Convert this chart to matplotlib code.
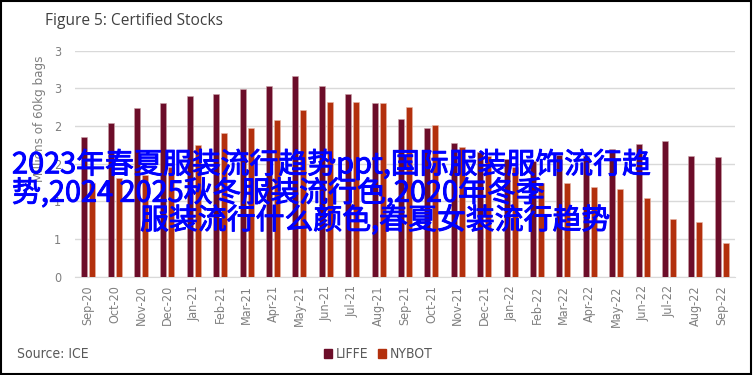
import numpy as np
import matplotlib
matplotlib.use("Agg")
import matplotlib.pyplot as plt
import matplotlib.patheffects as pe
from matplotlib.patches import Rectangle, Patch

# data (millions of 60kg bags)
months = ["Sep-20", "Oct-20", "Nov-20", "Dec-20", "Jan-21", "Feb-21", "Mar-21",
          "Apr-21", "May-21", "Jun-21", "Jul-21", "Aug-21", "Sep-21", "Oct-21",
          "Nov-21", "Dec-21", "Jan-22", "Feb-22", "Mar-22", "Apr-22", "May-22",
          "Jun-22", "Jul-22", "Aug-22", "Sep-22"]
liffe = [1.85, 2.04, 2.24, 2.31, 2.40, 2.43, 2.49, 2.53, 2.66, 2.53, 2.43, 2.31,
         2.09, 1.97, 1.78, 1.65, 1.56, 1.54, 1.62, 1.60, 1.70, 1.76, 1.80, 1.60, 1.59]
nybot = [1.25, 1.31, 1.35, 1.45, 1.75, 1.91, 1.98, 2.08, 2.21, 2.32, 2.32, 2.30,
         2.25, 2.01, 1.72, 1.60, 1.45, 1.25, 1.24, 1.19, 1.16, 1.04, 0.76, 0.72, 0.45]
y_ticks = [0, 0.5, 1.0, 1.5, 2.0, 2.5, 3.0]
y_tick_labels = ["0", "1", "1", "2", "2", "3", "3"]

overlay_lines = ["2023年春夏服装流行趋势ppt,国际服装服饰流行趋",
                 "势,2024 2025秋冬服装流行色,2020年冬季",
                 "服装流行什么颜色,春夏女装流行趋势"]

C_LIFFE = "#6c0d29"
C_NYBOT = "#b3300d"
GREY = "#7f7f7f"
NARROW = dict(family="DejaVu Sans", stretch="condensed")

fig = plt.figure(figsize=(7.53, 3.75), dpi=100)
ax = fig.add_axes([75 / 753, 1 - 276.7 / 375, 660 / 753, 226 / 375])

x = np.arange(len(months))
w = 0.23
ax.bar(x - 0.152, liffe, w, color=C_LIFFE, edgecolor="#c9a0a8", linewidth=0.4, zorder=3)
ax.bar(x + 0.152, nybot, w, color=C_NYBOT, edgecolor="#e8b7a8", linewidth=0.4, zorder=3)

ax.set_xlim(-0.5, len(months) - 0.5)
ax.set_ylim(0, 3.0)
ax.set_yticks(y_ticks)
ax.set_yticklabels(y_tick_labels)
ax.set_xticks(x)
ax.set_xticklabels(months, rotation=90)
ax.yaxis.grid(True, color="#d9d9d9", linewidth=1.0, zorder=0)
ax.set_axisbelow(True)
for s in ["top", "right", "left"]:
    ax.spines[s].set_visible(False)
ax.spines["bottom"].set_color("#d9d9d9")
ax.tick_params(axis="both", length=0, colors=GREY, labelsize=9)
ax.tick_params(axis="y", pad=10)
ax.tick_params(axis="x", pad=6)
for t in ax.get_xticklabels() + ax.get_yticklabels():
    t.set_family(NARROW["family"])
    t.set_stretch(NARROW["stretch"])

fig.text(45 / 753, 1 - 21 / 375, "Figure 5: Certified Stocks", fontsize=11.2,
         family="Open Sans", color="#404040", va="center", ha="left")
fig.text(40 / 753, 1 - 55 / 375, "Millions of 60kg bags", rotation=90, fontsize=9.5,
         color=GREY, va="top", ha="center", **NARROW)
fig.text(17 / 753, 1 - 354 / 375, "Source: ICE", fontsize=10,
         color="#595959", va="center", ha="left", **NARROW)

handles = [Patch(color=C_LIFFE, label="LIFFE"), Patch(color=C_NYBOT, label="NYBOT")]
leg = fig.legend(handles=handles, loc="center", bbox_to_anchor=(378 / 753, 1 - 354 / 375),
                 ncol=2, frameon=False, handlelength=0.6, handleheight=0.6,
                 handletextpad=0.25, columnspacing=0.7,
                 prop={"family": "DejaVu Sans", "stretch": "condensed", "size": 10})
for t in leg.get_texts():
    t.set_color("#595959")

# blue overlay text sitting on top of the chart
for (lx, base), line in zip([(12, 173.3), (12, 201.7), (140, 229.0)], overlay_lines):
    fig.text(lx / 753, 1 - base / 375, line, fontsize=20.8, color="#0000ff",
             family=["Noto Sans CJK SC", "DejaVu Sans"], va="baseline", ha="left",
             zorder=10,
             path_effects=[pe.withStroke(linewidth=0.7, foreground="#0000ff")])

fig.patches.append(Rectangle((0.001, 0.004), 0.997, 0.994, transform=fig.transFigure,
                             fill=False, edgecolor="black", linewidth=1.5))

fig.savefig("out.png", dpi=100)
